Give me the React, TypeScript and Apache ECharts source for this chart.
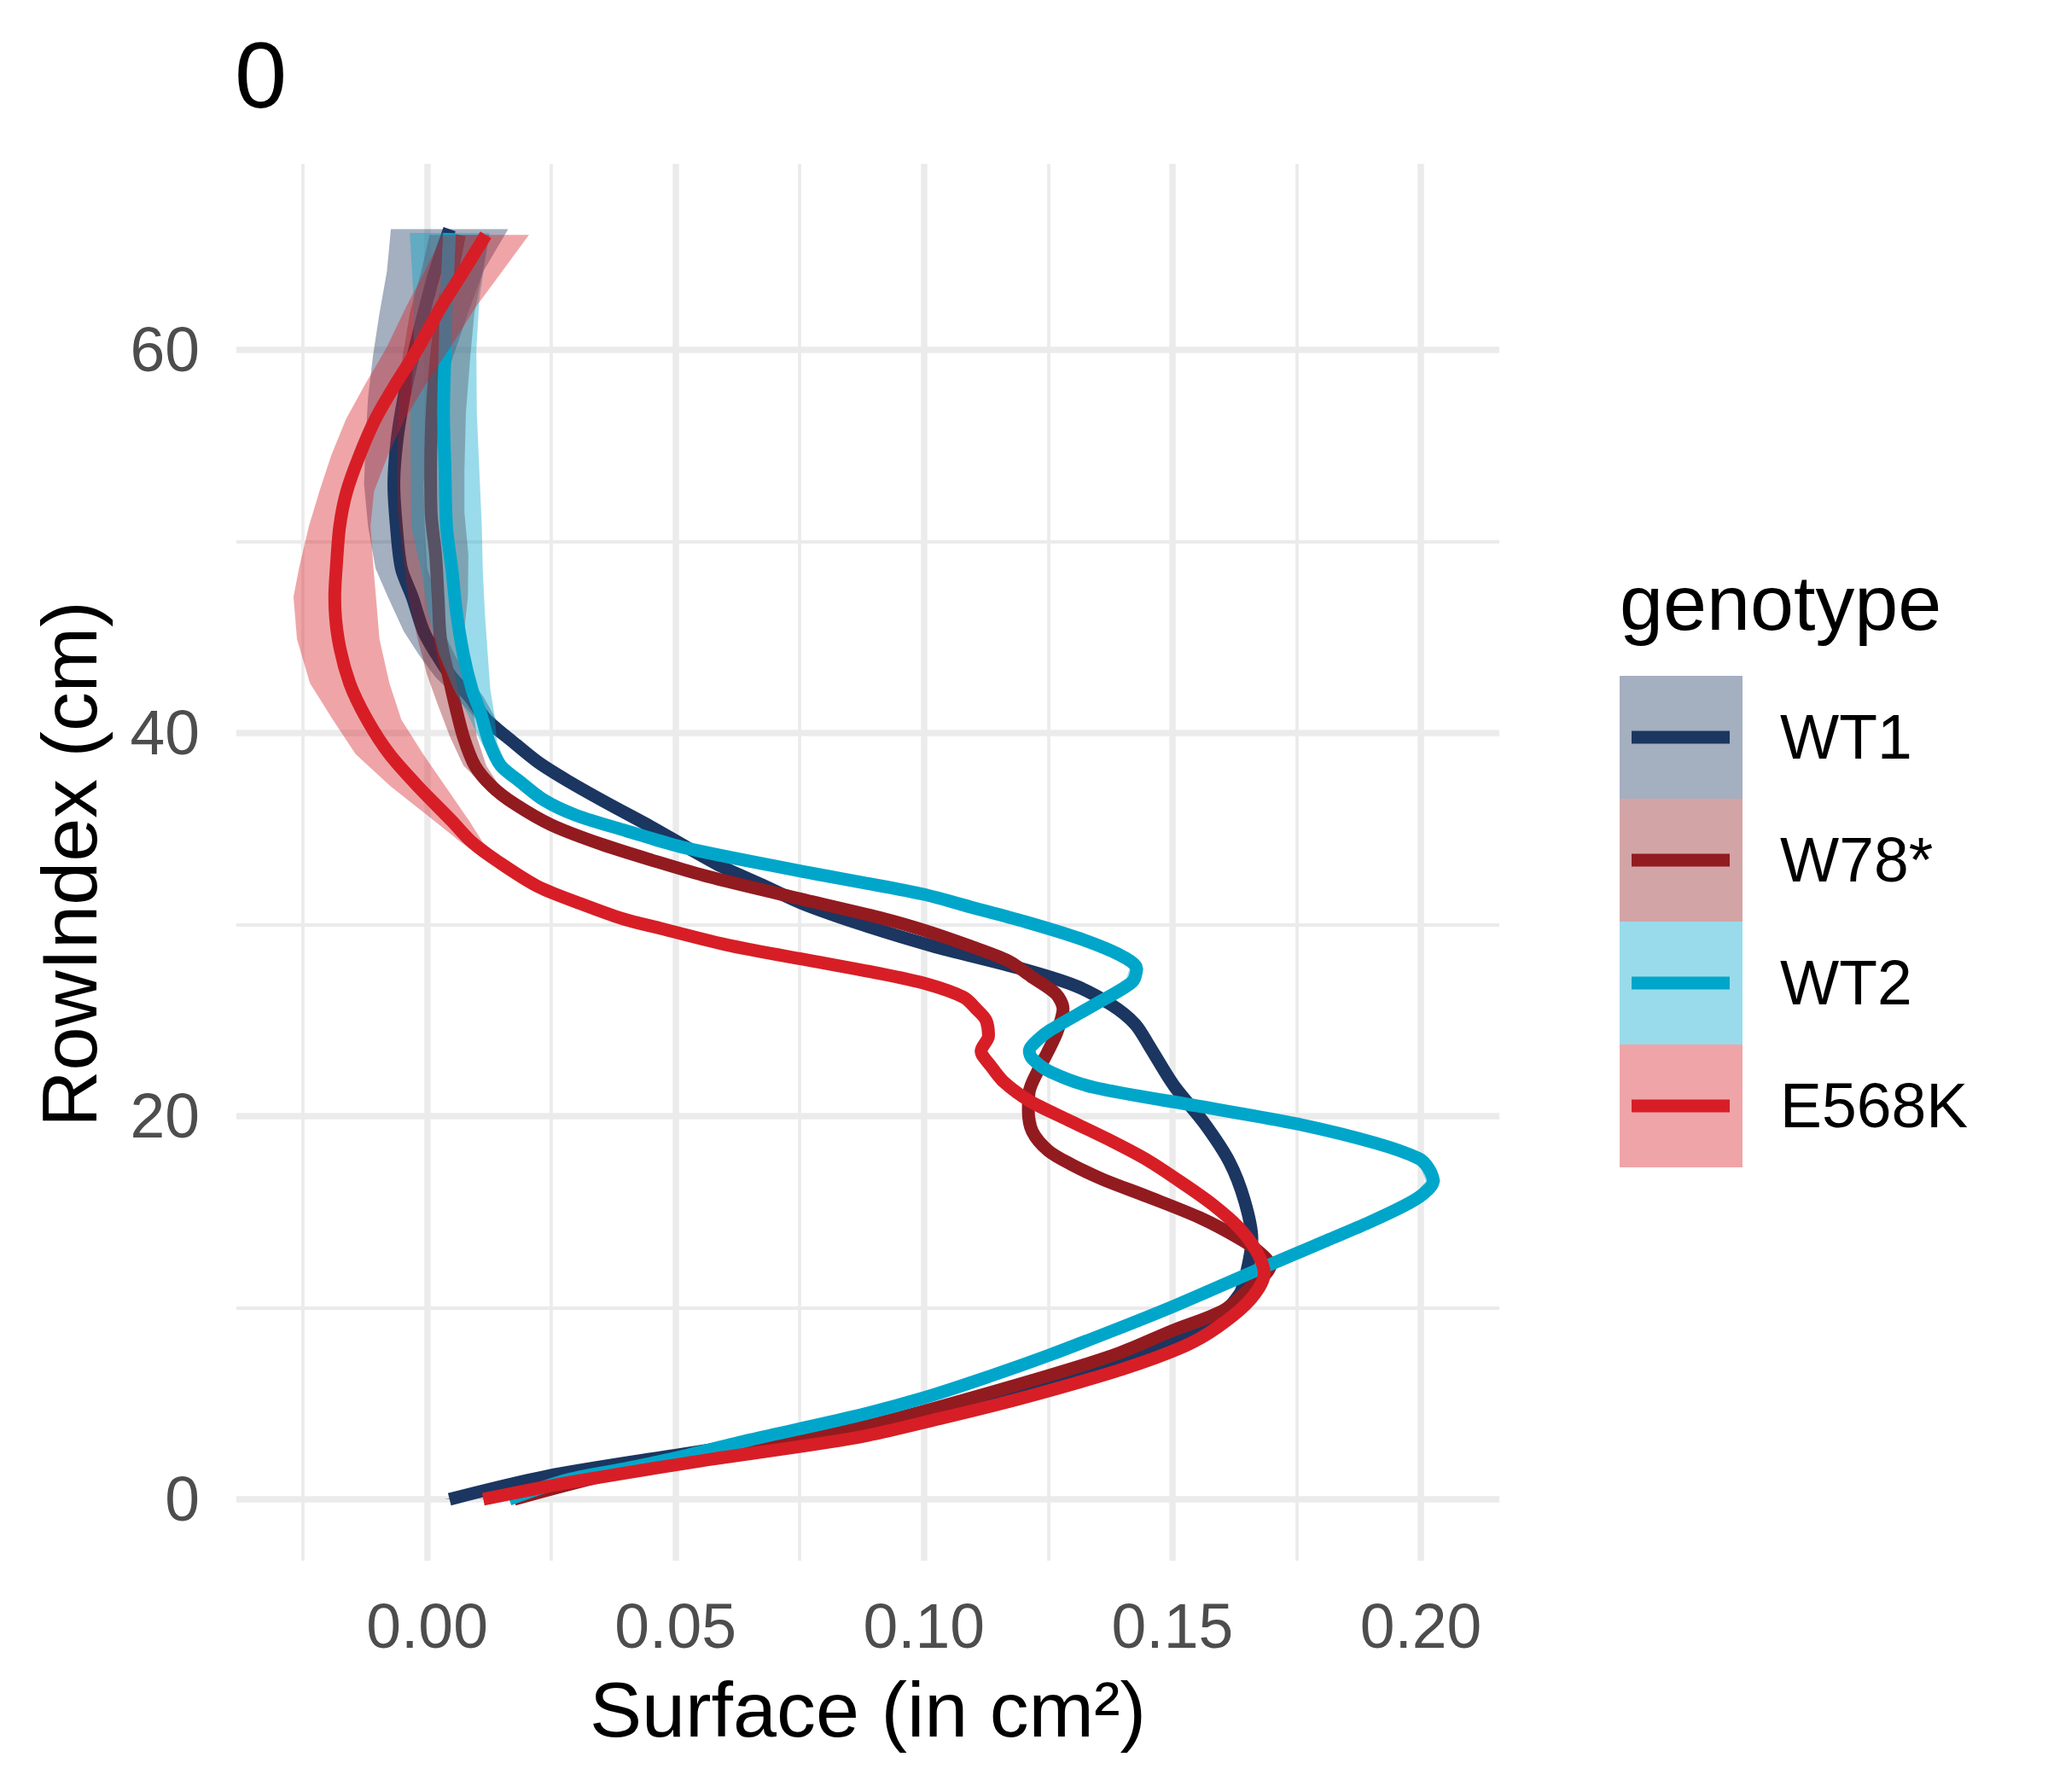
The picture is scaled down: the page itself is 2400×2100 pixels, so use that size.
import React, { useEffect, useRef } from "react";
import * as echarts from "echarts";

// ---------- data ----------
const GENOTYPES = ["WT1", "W78*", "WT2", "E568K"];
const LINE_COLORS = ["#1B3660", "#921B20", "#00A6CA", "#D71E26"];

const X_TICKS = [0, 0.05, 0.1, 0.15, 0.2];
const X_MINOR = [-0.025, 0.025, 0.075, 0.125, 0.175];
const Y_TICKS = [0, 20, 40, 60];
const Y_MINOR = [10, 30, 50];

// WT1
const WT1_ROW = [0, 1.2, 2.3, 3.3, 4.3, 5.2, 6.1, 7.3, 8.35, 9.5, 10.7, 11.7, 13.6, 15.6, 17.6, 19.6, 21.6, 23.6, 24.8, 25.8, 26.8, 27.7, 28.9, 30.0, 31.1, 32.0, 33.0, 34.0, 35.1, 36.3, 37.5, 38.5, 39.7, 40.7, 41.9, 42.9, 44.1, 45.3, 47.1, 48.6, 50.8, 53.0, 55.2, 57.5, 59.7, 61.9, 64.1, 66.3];
const WT1_SURF = [0.0045, 0.024, 0.05, 0.075, 0.1, 0.113, 0.125, 0.14, 0.15, 0.159, 0.1635, 0.1648, 0.166, 0.1645, 0.1615, 0.1565, 0.1503, 0.1455, 0.1425, 0.1378, 0.1305, 0.1195, 0.1015, 0.0875, 0.0755, 0.068, 0.0595, 0.0525, 0.0451, 0.0365, 0.0283, 0.0222, 0.0165, 0.0119, 0.0085, 0.005, 0.0019, -0.0007, -0.003, -0.0052, -0.0062, -0.0067, -0.0061, -0.0047, -0.0028, -0.0007, 0.0016, 0.0045];
const WT1_SE = [0.001, 0.001, 0.001, 0.001, 0.001, 0.001, 0.001, 0.001, 0.001, 0.001, 0.001, 0.001, 0.001, 0.001, 0.001, 0.001, 0.001, 0.001, 0.001, 0.001, 0.001, 0.001, 0.001, 0.001, 0.001, 0.001, 0.001, 0.001, 0.001, 0.001, 0.0012, 0.0012, 0.0015, 0.002, 0.0028, 0.0033, 0.0036, 0.004, 0.0049, 0.0052, 0.0057, 0.006, 0.0063, 0.0072, 0.0081, 0.0089, 0.0097, 0.0118];

// W78*
const W78_ROW = [0, 1.5, 2.6, 3.64, 4.6, 6.45, 7.6, 8.8, 9.86, 11.05, 12.2, 12.9, 13.64, 14.7, 15.8, 16.7, 17.5, 18.2, 19.2, 20.3, 21.3, 22.3, 23.3, 24.4, 25.6, 26.4, 27.3, 28.1, 28.9, 29.7, 30.3, 31.4, 32.5, 33.3, 34.2, 35.2, 36.3, 37.2, 38.3, 39.8, 41.5, 43.1, 44.9, 47.1, 49.3, 51.5, 53.7, 56.7, 59.7, 61.9, 64.1, 66.0];
const W78_SURF = [0.0175, 0.04, 0.063, 0.0856, 0.1, 0.125, 0.139, 0.15, 0.1603, 0.1657, 0.1697, 0.1675, 0.1633, 0.1555, 0.145, 0.136, 0.1295, 0.125, 0.1218, 0.121, 0.1212, 0.1228, 0.1248, 0.1268, 0.128, 0.1265, 0.1215, 0.117, 0.109, 0.1, 0.092, 0.0741, 0.0566, 0.046, 0.035, 0.025, 0.0176, 0.0131, 0.0096, 0.0073, 0.0056, 0.0042, 0.0027, 0.0022, 0.0017, 0.0008, 0.0007, 0.001, 0.0019, 0.003, 0.005, 0.0065];
const W78_SE = [0.0012, 0.0012, 0.0012, 0.0012, 0.0012, 0.0012, 0.0012, 0.0012, 0.0012, 0.0012, 0.0012, 0.0012, 0.0012, 0.0012, 0.0012, 0.0012, 0.0012, 0.0012, 0.0012, 0.0012, 0.0012, 0.0012, 0.0012, 0.0012, 0.0012, 0.0012, 0.0012, 0.0012, 0.0012, 0.0012, 0.0012, 0.0012, 0.0012, 0.0012, 0.0012, 0.0012, 0.0012, 0.0015, 0.0023, 0.0027, 0.0035, 0.0043, 0.0046, 0.006, 0.0066, 0.0067, 0.0068, 0.0068, 0.0068, 0.0065, 0.0062, 0.006];

// WT2
const WT2_ROW = [0, 1.0, 1.56, 2.15, 3.1, 4.3, 5.3, 6.4, 7.5, 8.8, 10.05, 11.4, 12.45, 13.5, 14.44, 15.3, 15.9, 16.6, 17.3, 17.8, 18.6, 19.6, 20.5, 21.5, 22.3, 23.0, 23.4, 24.0, 24.5, 25.8, 27.0, 27.7, 28.4, 29.3, 30.1, 30.8, 31.6, 32.8, 34.0, 34.9, 35.7, 36.5, 37.5, 38.3, 39.5, 41.0, 42.3, 44.1, 46.3, 48.5, 50.8, 53.7, 56.7, 60.0, 62.6, 66.1];
const WT2_SURF = [0.0165, 0.028, 0.039, 0.05, 0.065, 0.0856, 0.1, 0.113, 0.125, 0.138, 0.15, 0.162, 0.1715, 0.181, 0.1895, 0.1965, 0.2003, 0.2025, 0.2015, 0.1995, 0.1908, 0.175, 0.1557, 0.1342, 0.1255, 0.1218, 0.1212, 0.123, 0.1255, 0.1342, 0.1419, 0.1428, 0.1395, 0.131, 0.121, 0.111, 0.0995, 0.075, 0.052, 0.04, 0.03, 0.0235, 0.0185, 0.0148, 0.0125, 0.0108, 0.009, 0.0073, 0.0059, 0.005, 0.0039, 0.0036, 0.0033, 0.0036, 0.0039, 0.0045];
const WT2_SE = [0.001, 0.001, 0.001, 0.001, 0.001, 0.001, 0.001, 0.001, 0.001, 0.001, 0.001, 0.001, 0.001, 0.001, 0.001, 0.0015, 0.0015, 0.0015, 0.0015, 0.0015, 0.0015, 0.001, 0.001, 0.001, 0.001, 0.001, 0.001, 0.001, 0.001, 0.0014, 0.0014, 0.0014, 0.0014, 0.0014, 0.001, 0.001, 0.001, 0.001, 0.001, 0.001, 0.001, 0.001, 0.001, 0.0012, 0.0016, 0.0027, 0.0037, 0.0049, 0.0057, 0.0062, 0.0071, 0.0069, 0.0067, 0.0063, 0.0066, 0.008];

// E568K
const E568K_ROW = [0, 0.85, 2.0, 3.2, 4.2, 5.3, 6.8, 8.0, 9.0, 10.4, 11.8, 13.0, 14.2, 15.4, 16.4, 17.7, 18.8, 19.8, 20.8, 21.8, 22.6, 23.4, 24.2, 25.0, 25.6, 26.2, 26.9, 27.5, 28.1, 28.9, 29.8, 30.3, 31.1, 32.0, 33.3, 34.3, 35.4, 37.2, 38.9, 40.7, 42.6, 44.9, 47.1, 48.6, 50.8, 52.6, 54.5, 56.4, 58.2, 60.1, 62.2, 64.1, 66.0];
const E568K_SURF = [0.0113, 0.028, 0.055, 0.086, 0.103, 0.12, 0.14, 0.1525, 0.1592, 0.1656, 0.1685, 0.1668, 0.1633, 0.158, 0.1526, 0.145, 0.137, 0.129, 0.1212, 0.116, 0.1135, 0.1115, 0.113, 0.1125, 0.1105, 0.108, 0.1005, 0.09, 0.0775, 0.061, 0.047, 0.0394, 0.0308, 0.0222, 0.0142, 0.009, 0.005, -0.0018, -0.0076, -0.0121, -0.0156, -0.0179, -0.0186, -0.0183, -0.0176, -0.0162, -0.0136, -0.0104, -0.0064, -0.0018, 0.0027, 0.0073, 0.0118];
const E568K_SE = [0.001, 0.001, 0.001, 0.001, 0.001, 0.001, 0.001, 0.001, 0.001, 0.001, 0.001, 0.001, 0.001, 0.001, 0.001, 0.001, 0.001, 0.001, 0.001, 0.001, 0.0013, 0.0013, 0.0013, 0.0013, 0.0013, 0.0013, 0.0013, 0.001, 0.001, 0.001, 0.001, 0.001, 0.001, 0.001, 0.0014, 0.0022, 0.0035, 0.0055, 0.0068, 0.0069, 0.008, 0.0083, 0.0083, 0.0075, 0.0062, 0.0055, 0.0057, 0.0059, 0.0061, 0.0064, 0.007, 0.0078, 0.0087];

const TITLE = "0";
const X_TITLE = "Surface (in cm²)";
const Y_TITLE = "RowIndex (cm)";
const LEGEND_TITLE = "genotype";

// ---------- layout / style ----------
const FONT = "'Liberation Sans', Arial, sans-serif";
const GRID_COLOR = "#EBEBEB";
const X_MIN = -0.0384;
const X_MAX = 0.2158;
const Y_MIN = -3.21;
const Y_MAX = 69.71;
const GRID = { left: 277, top: 192, width: 1480, height: 1637 };

function rgba(hex: string, a: number) {
  const n = parseInt(hex.slice(1), 16);
  return `rgba(${(n >> 16) & 255},${(n >> 8) & 255},${n & 255},${a})`;
}

export default function App() {
  const ref = useRef<HTMLDivElement>(null);

  useEffect(() => {
    if (!ref.current) return;
    const chart = echarts.init(ref.current, null, { renderer: "svg" });

    const groups = [
      { rows: WT1_ROW, surf: WT1_SURF, se: WT1_SE },
      { rows: W78_ROW, surf: W78_SURF, se: W78_SE },
      { rows: WT2_ROW, surf: WT2_SURF, se: WT2_SE },
      { rows: E568K_ROW, surf: E568K_SURF, se: E568K_SE },
    ];

    const gridLine = (w: number) => ({ width: w, color: GRID_COLOR, type: "solid" as const });

    const series: any[] = [
      {
        type: "line",
        data: [],
        silent: true,
        z: 1,
        markLine: {
          z: 1,
          silent: true,
          precision: 6,
          symbol: ["none", "none"],
          label: { show: false },
          emphasis: { disabled: true },
          data: [
            ...X_MINOR.map((v) => ({ xAxis: v, lineStyle: gridLine(3.8) })),
            ...Y_MINOR.map((v) => ({ yAxis: v, lineStyle: gridLine(3.8) })),
            ...X_TICKS.map((v) => ({ xAxis: v, lineStyle: gridLine(7.5) })),
            ...Y_TICKS.map((v) => ({ yAxis: v, lineStyle: gridLine(7.5) })),
          ],
        },
      },
    ];

    groups.forEach((g, i) => {
      const color = LINE_COLORS[i];
      series.push({
        type: "custom",
        name: GENOTYPES[i] + " ribbon",
        z: 2 + i * 2,
        silent: true,
        data: [[g.surf[0], g.rows[0]]],
        renderItem: (_params: any, api: any) => {
          const lo = g.rows.map((r, k) => api.coord([g.surf[k] - g.se[k], r]));
          const hi = g.rows.map((r, k) => api.coord([g.surf[k] + g.se[k], r])).reverse();
          return {
            type: "polygon",
            shape: { points: lo.concat(hi) },
            style: { fill: rgba(color, 0.4), stroke: null },
          };
        },
      });
      series.push({
        type: "line",
        name: GENOTYPES[i],
        z: 3 + i * 2,
        silent: true,
        showSymbol: false,
        symbol: "none",
        smooth: 0.3,
        data: g.rows.map((r, k) => [g.surf[k], r]),
        lineStyle: { color, width: 15, cap: "butt", join: "round" },
      });
    });

    const graphics: any[] = [
      {
        type: "text",
        x: 275,
        y: 87,
        style: { text: TITLE, font: `110px ${FONT}`, fill: "#000", verticalAlign: "middle", align: "left" },
      },
      {
        type: "text",
        x: GRID.left + GRID.width / 2,
        y: 2003,
        style: { text: X_TITLE, font: `91.7px ${FONT}`, fill: "#000", verticalAlign: "middle", align: "center" },
      },
      {
        type: "text",
        x: 81,
        y: GRID.top + GRID.height / 2 + 2,
        rotation: Math.PI / 2,
        style: { text: Y_TITLE, font: `91.7px ${FONT}`, fill: "#000", verticalAlign: "middle", align: "center" },
      },
      {
        type: "text",
        x: 1898,
        y: 706,
        style: { text: LEGEND_TITLE, font: `91.7px ${FONT}`, fill: "#000", verticalAlign: "middle", align: "left" },
      },
    ];
    GENOTYPES.forEach((name, i) => {
      const top = 792 + 144 * i;
      const cy = top + 72;
      graphics.push({
        type: "rect",
        shape: { x: 1898, y: top, width: 144, height: 144 },
        style: { fill: rgba(LINE_COLORS[i], 0.4) },
      });
      graphics.push({
        type: "line",
        shape: { x1: 1912, y1: cy, x2: 2027, y2: cy },
        style: { stroke: LINE_COLORS[i], lineWidth: 15, lineCap: "butt" },
      });
      graphics.push({
        type: "text",
        x: 2086,
        y: cy,
        style: { text: name, font: `73.3px ${FONT}`, fill: "#000", verticalAlign: "middle", align: "left" },
      });
    });

    chart.setOption({
      animation: false,
      backgroundColor: "#FFFFFF",
      textStyle: { fontFamily: FONT },
      grid: { ...GRID, containLabel: false, outerBoundsMode: "none" },
      xAxis: {
        type: "value",
        min: X_MIN,
        max: X_MAX,
        axisLine: { show: false },
        axisTick: { show: false },
        splitLine: { show: false },
        axisLabel: {
          customValues: X_TICKS,
          formatter: (v: number) => v.toFixed(2),
          color: "#4D4D4D",
          fontSize: 73.3,
          fontFamily: FONT,
          margin: 40,
        },
      },
      yAxis: {
        type: "value",
        min: Y_MIN,
        max: Y_MAX,
        axisLine: { show: false },
        axisTick: { show: false },
        splitLine: { show: false },
        axisLabel: {
          customValues: Y_TICKS,
          formatter: (v: number) => String(v),
          color: "#4D4D4D",
          fontSize: 73.3,
          fontFamily: FONT,
          margin: 43,
        },
      },
      series,
      graphic: graphics,
    });

    return () => chart.dispose();
  }, []);

  return (
    <div
      ref={ref}
      style={{ position: "absolute", left: 0, top: 0, width: 2400, height: 2100, background: "#fff" }}
    />
  );
}
